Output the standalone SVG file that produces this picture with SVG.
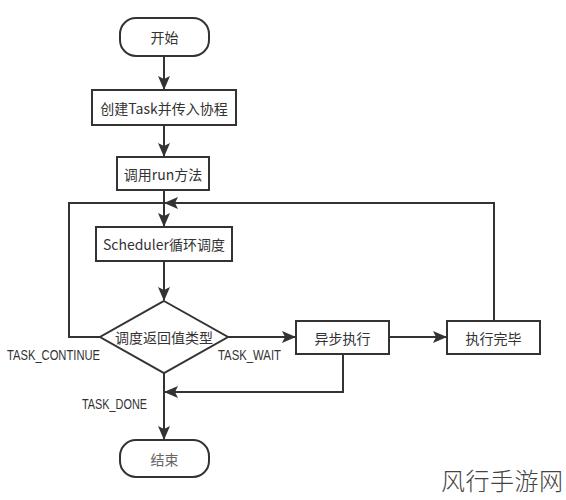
<svg xmlns="http://www.w3.org/2000/svg" width="566" height="500" viewBox="0 0 566 500">
<defs>
<marker id="arr" markerUnits="userSpaceOnUse" markerWidth="14" markerHeight="12" viewBox="0 0 14 12" refX="13" refY="6" orient="auto">
<path d="M0,0 L14,6 L0,12 L3,6 Z" fill="#333"/>
</marker>
<style>
.box{fill:#fff;stroke:#333;stroke-width:2}
.ln{fill:none;stroke:#333;stroke-width:2}
.t{font-family:"Noto Sans CJK SC","Liberation Sans",sans-serif;font-size:14px;fill:#333;text-anchor:middle;dominant-baseline:central}
.lb{font-family:"Liberation Sans","Noto Sans",sans-serif;font-size:14px;fill:#333}
</style>
</defs>
<rect width="566" height="500" fill="#fff"/>
<g id="connectors">
<line class="ln" x1="164" y1="56" x2="164" y2="89" marker-end="url(#arr)"/>
<line class="ln" x1="164" y1="125" x2="164" y2="156" marker-end="url(#arr)"/>
<line class="ln" x1="164" y1="190" x2="164" y2="226" marker-end="url(#arr)"/>
<line class="ln" x1="164" y1="261" x2="164" y2="300" marker-end="url(#arr)"/>
<line class="ln" x1="228" y1="337" x2="295" y2="337" marker-end="url(#arr)"/>
<line class="ln" x1="389" y1="337" x2="446" y2="337" marker-end="url(#arr)"/>
<polyline class="ln" points="494,320 494,203 165,203" marker-end="url(#arr)"/>
<polyline class="ln" points="100,337 69,337 69,203 164,203"/>
<polyline class="ln" points="343,354 343,392 165,392" marker-end="url(#arr)"/>
<line class="ln" x1="164" y1="373" x2="164" y2="439" marker-end="url(#arr)"/>
</g>
<g id="start">
<rect class="box" x="120" y="18" width="89" height="38" rx="16" ry="16"/>
<text class="t" x="164.5" y="37">开始</text>
</g>
<g id="create">
<rect class="box" x="92" y="90" width="144" height="35"/>
<text class="t" x="164" y="107.5">创建Task并传入协程</text>
</g>
<g id="run">
<rect class="box" x="117" y="157" width="92" height="33"/>
<text class="t" x="163" y="173.5">调用run方法</text>
</g>
<g id="scheduler">
<rect class="box" x="96" y="227" width="136" height="34"/>
<text class="t" x="164" y="244">Scheduler循环调度</text>
</g>
<g id="decision">
<polygon class="box" points="164,301 228,337 164,373 100,337"/>
<text class="t" x="164" y="337">调度返回值类型</text>
</g>
<g id="async">
<rect class="box" x="296" y="321" width="93" height="33"/>
<text class="t" x="342.5" y="337.5">异步执行</text>
</g>
<g id="done">
<rect class="box" x="447" y="321" width="93" height="33"/>
<text class="t" x="493.5" y="337.5">执行完毕</text>
</g>
<g id="end">
<rect class="box" x="120" y="440" width="89" height="37" rx="16" ry="16"/>
<text class="t" x="164.5" y="458.5" style="fill:#666">结束</text>
</g>
<g id="labels">
<text class="lb" x="7" y="360" textLength="93" lengthAdjust="spacingAndGlyphs">TASK_CONTINUE</text>
<text class="lb" x="218" y="360" textLength="63" lengthAdjust="spacingAndGlyphs">TASK_WAIT</text>
<text class="lb" x="82" y="409" textLength="65" lengthAdjust="spacingAndGlyphs">TASK_DONE</text>
</g>
<text x="441" y="490" style="font-family:'Noto Sans CJK SC',sans-serif;font-size:24px;font-weight:300;fill:#444" textLength="122">风行手游网</text>
</svg>
